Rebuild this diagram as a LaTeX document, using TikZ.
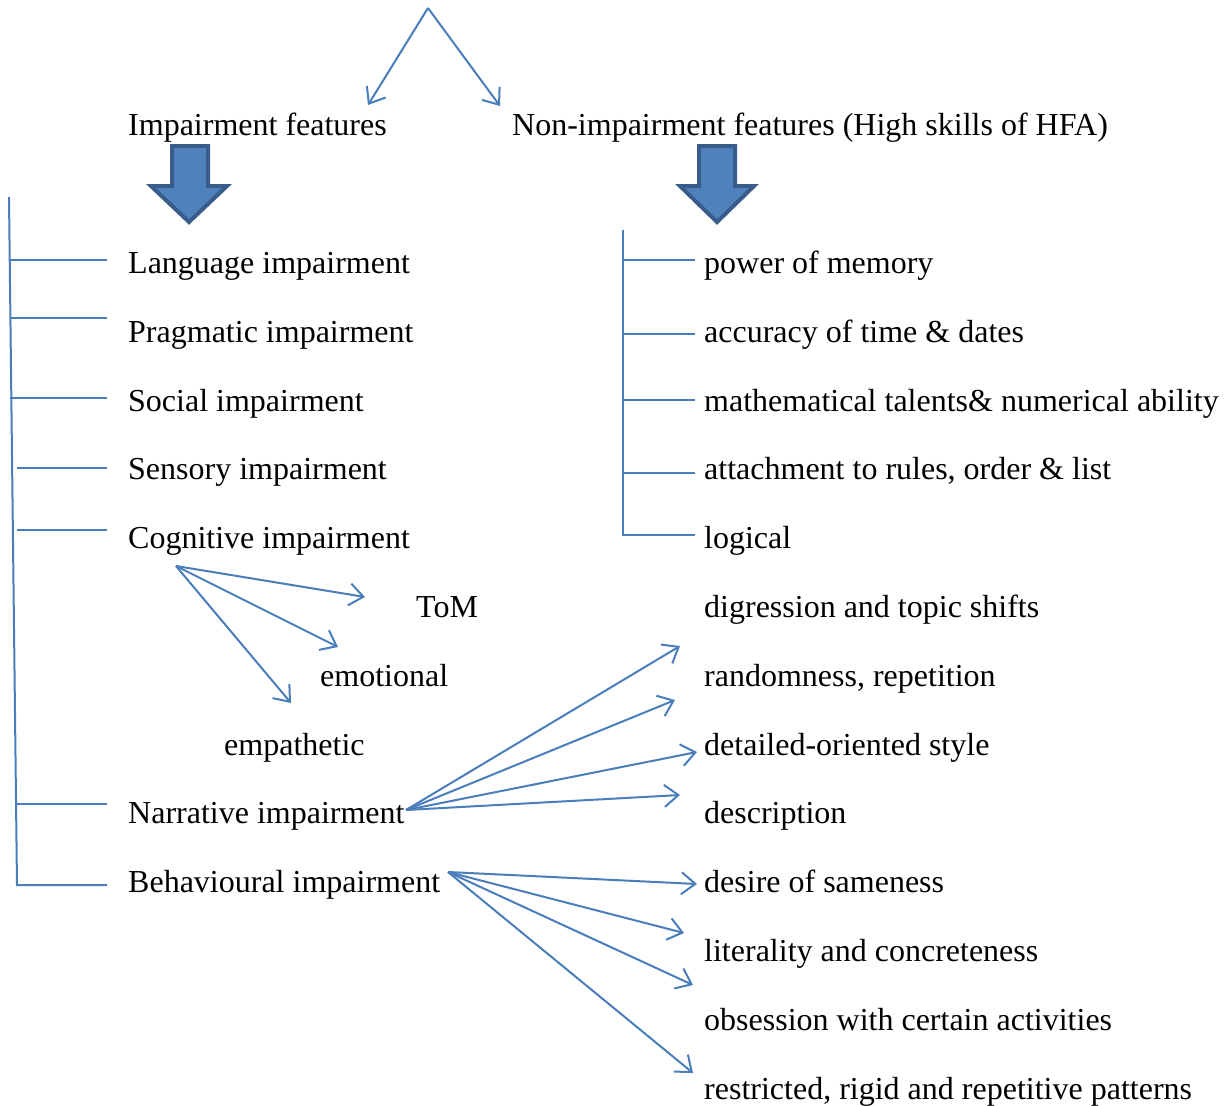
\documentclass[tikz,border=0pt]{standalone}
\usepackage{fontspec}
\setmainfont{Liberation Serif}
\usetikzlibrary{arrows.meta}
\definecolor{linkblue}{RGB}{74,126,187}
\definecolor{fillblue}{RGB}{79,129,189}
\definecolor{edgeblue}{RGB}{56,93,138}

\begin{document}
\begin{tikzpicture}[x=1pt,y=-1pt]
            \tikzstyle{every node}+=[inner sep=0pt, anchor=base west, font=\fontsize{32}{38}\selectfont]
            \tikzstyle{link}=[linkblue, line width=2pt, -{Straight Barb[length=14pt,width=22pt]}]
            \tikzstyle{rule}=[linkblue, line width=2pt]
            \tikzstyle{bigarrow}=[fill=fillblue, draw=edgeblue, line width=4pt, line join=miter]
            \useasboundingbox (0,0) rectangle (1227,1106);
            % headers
            \node (imp) at (128,135) {Impairment features};
            \node (nonimp) at (512,135) {Non-impairment features (High skills of HFA)};
            \coordinate (apex) at (428,8);
            \coordinate (impend) at (368,105);
            \coordinate (nonend) at (500,106);
            \draw [link] (apex) -- (impend);
            \draw [link] (apex) -- (nonend);
            % block arrows
            \draw [bigarrow] (172,146) -- (208,146) -- (208,186) -- (227,186) -- (189,222) -- (151,186) -- (172,186) -- cycle;
            \draw [bigarrow] (699,146) -- (735,146) -- (735,186) -- (754,186) -- (717,222) -- (680,186) -- (699,186) -- cycle;
            % impairments
            \node (lang) at (128,273) {Language impairment};
            \node (prag) at (128,342) {Pragmatic impairment};
            \node (social) at (128,411) {Social impairment};
            \node (sensory) at (128,479) {Sensory impairment};
            \node (cogn) at (128,548) {Cognitive impairment};
            \node (tom) at (416,617) {ToM};
            \node (emot) at (320,686) {emotional};
            \node (empath) at (224,755) {empathetic};
            \node (narr) at (128,823) {Narrative impairment};
            \node (behav) at (128,892) {Behavioural impairment};
            \draw [rule] (9,197) -- (17,885) -- (107,885);
            \draw [rule] (10,260) -- (107,260);
            \draw [rule] (10,318) -- (107,318);
            \draw [rule] (10,398) -- (107,398);
            \draw [rule] (17,468) -- (107,468);
            \draw [rule] (17,530) -- (107,530);
            \draw [rule] (17,804) -- (107,804);
            % high skills
            \node (memory) at (704,273) {power of memory};
            \node (dates) at (704,342) {accuracy of time \& dates};
            \node (maths) at (704,411) {mathematical talents\& numerical ability};
            \node (rules) at (704,479) {attachment to rules, order \& list};
            \node (logic) at (704,548) {logical};
            \draw [rule] (623,230) -- (623,535) -- (695,535);
            \draw [rule] (623,260) -- (695,260);
            \draw [rule] (623,334) -- (695,334);
            \draw [rule] (623,400) -- (695,400);
            \draw [rule] (623,473) -- (695,473);
            % narrative and behaviour
            \node (digr) at (704,617) {digression and topic shifts};
            \node (random) at (704,686) {randomness, repetition};
            \node (detail) at (704,755) {detailed-oriented style};
            \node (descr) at (704,823) {description};
            \node (same) at (704,892) {desire of sameness};
            \node (literal) at (704,961) {literality and concreteness};
            \node (obsess) at (704,1030) {obsession with certain activities};
            \node (restrict) at (704,1099) {restricted, rigid and repetitive patterns};
            % cognitive branches
            \coordinate (cognsrc) at (176,566);
            \coordinate (tomend) at (365,597);
            \coordinate (emotend) at (338,647);
            \coordinate (empathend) at (291,703);
            \draw [link] (cognsrc) -- (tomend);
            \draw [link] (cognsrc) -- (emotend);
            \draw [link] (cognsrc) -- (empathend);
            % narrative branches
            \coordinate (narrsrc) at (406,810);
            \coordinate (digrend) at (680,646);
            \coordinate (randomend) at (675,700);
            \coordinate (detailend) at (697,752);
            \coordinate (descrend) at (680,795);
            \draw [link] (narrsrc) -- (digrend);
            \draw [link] (narrsrc) -- (randomend);
            \draw [link] (narrsrc) -- (detailend);
            \draw [link] (narrsrc) -- (descrend);
            % behaviour branches
            \coordinate (behavsrc) at (448,872);
            \coordinate (sameend) at (697,884);
            \coordinate (literalend) at (684,933);
            \coordinate (obsessend) at (693,985);
            \coordinate (restrictend) at (693,1073);
            \draw [link] (behavsrc) -- (sameend);
            \draw [link] (behavsrc) -- (literalend);
            \draw [link] (behavsrc) -- (obsessend);
            \draw [link] (behavsrc) -- (restrictend);
        \end{tikzpicture}
\end{document}
